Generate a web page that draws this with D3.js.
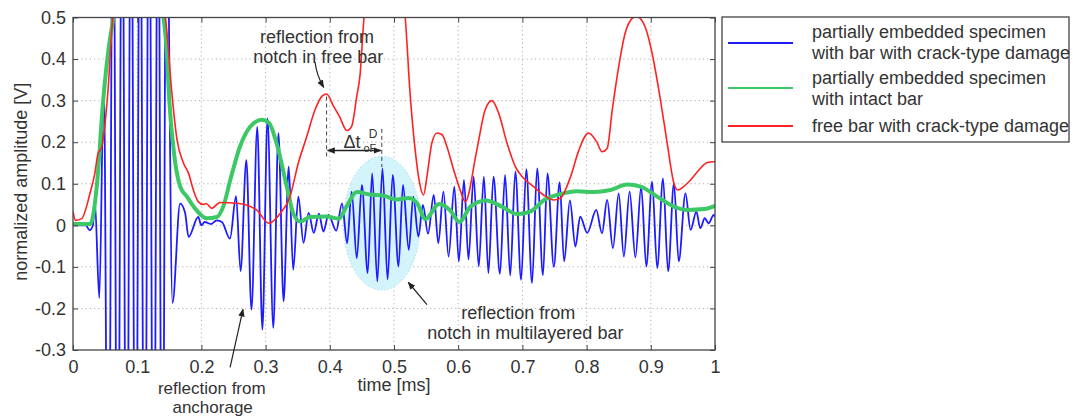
<!DOCTYPE html>
<html>
<head>
<meta charset="utf-8">
<script src="https://cdn.jsdelivr.net/npm/d3@7"></script>
<style>
  html, body { margin: 0; padding: 0; background: #fff; }
  svg text { font-family: "Liberation Sans", Arial, sans-serif; fill: #333; }
</style>
</head>
<body>
<svg id="chart" width="1073" height="418"></svg>
<script>
// ---------------- DATA ----------------
const xTicks = [0, 0.1, 0.2, 0.3, 0.4, 0.5, 0.6, 0.7, 0.8, 0.9, 1];
const xTickLabels = ["0", "0.1", "0.2", "0.3", "0.4", "0.5", "0.6", "0.7", "0.8", "0.9", "1"];
const yTicks = [-0.3, -0.2, -0.1, 0, 0.1, 0.2, 0.3, 0.4, 0.5];
const yTickLabels = ["-0.3", "-0.2", "-0.1", "0", "0.1", "0.2", "0.3", "0.4", "0.5"];

const seriesNames = [
  ["partially embedded specimen", "with bar with crack-type damage"],
  ["partially embedded specimen", "with intact bar"],
  ["free bar with crack-type damage"]
];

// blue: partially embedded specimen, bar with crack-type damage (time [ms], amplitude [V])
const blueSignal = [
  [0,0],[0.02,0],[0.026,-0.012],[0.031,0.0],[0.034,0.06],[0.041,-0.175],[0.048,0.35],
  [0.055,-1.0],[0.0625,1.0],[0.0695,-1.0],[0.0765,1.0],[0.0835,-1.0],[0.0905,1.0],[0.0975,-1.0],
  [0.1045,1.0],[0.1115,-1.0],[0.1185,1.0],[0.1255,-1.0],[0.1325,1.0],[0.139,-1.0],[0.1455,0.9],
  [0.155,-0.187],[0.1668,0.052],[0.1746,0.03],[0.18,-0.028],[0.195,0.02],[0.2,0.0],[0.205,0.008],
  [0.215,0.003],[0.224,0.012],[0.232,0.008],[0.2445,-0.032],[0.254,0.07],[0.261,-0.11],[0.27,0.157],
  [0.278,-0.203],[0.287,0.237],[0.295,-0.251],[0.303,0.257],[0.312,-0.247],[0.32,0.222],[0.328,-0.183],
  [0.336,0.141],[0.343,-0.107],[0.351,0.069],[0.359,-0.042],[0.367,0.03],[0.375,-0.018],[0.383,0.028],
  [0.39,-0.015],[0.398,0.025],[0.41,-0.013],[0.419,0.053],[0.427,-0.043],[0.434,0.081],[0.442,-0.079],
  [0.45,0.097],[0.459,-0.115],[0.466,0.125],[0.474,-0.135],[0.482,0.137],[0.49,-0.13],[0.498,0.121],
  [0.507,-0.099],[0.514,0.097],[0.523,-0.059],[0.53,0.069],[0.538,-0.027],[0.545,0.049],[0.553,-0.02],
  [0.562,0.073],[0.569,-0.043],[0.577,0.081],[0.585,-0.075],[0.594,0.093],[0.601,-0.087],[0.609,0.109],
  [0.616,-0.082],[0.624,0.117],[0.632,-0.099],[0.64,0.117],[0.647,-0.115],[0.655,0.117],[0.665,-0.117],
  [0.673,0.121],[0.681,-0.121],[0.689,0.129],[0.698,-0.131],[0.706,0.135],[0.715,-0.139],[0.723,0.137],
  [0.732,-0.12],[0.739,0.125],[0.749,-0.1],[0.758,0.104],[0.765,-0.087],[0.774,0.06],[0.7825,-0.051],
  [0.79,0.021],[0.801,-0.018],[0.815,0.037],[0.824,-0.019],[0.832,0.061],[0.841,-0.055],[0.85,0.077],
  [0.858,-0.075],[0.867,0.081],[0.876,-0.077],[0.885,0.093],[0.893,-0.099],[0.902,0.105],[0.91,-0.103],
  [0.919,0.113],[0.927,-0.111],[0.936,0.101],[0.9435,-0.087],[0.954,0.077],[0.962,-0.011],[0.971,0.033],
  [0.977,-0.007],[0.984,0.017],[0.99,0.005],[0.998,0.025],[1.0,0.02]
];

// green: partially embedded specimen with intact bar
const greenSignal = [
  [0,0.003],[0.027,0.003],[0.037,0.093],[0.047,0.30],[0.055,0.42],[0.063,0.5],[0.07,0.58],
  [0.1,0.78],[0.134,0.58],[0.141,0.5],[0.146,0.42],[0.15,0.30],[0.158,0.165],[0.167,0.093],
  [0.177,0.07],[0.192,0.037],[0.208,0.017],[0.224,0.02],[0.234,0.045],[0.245,0.109],[0.26,0.189],
  [0.276,0.237],[0.294,0.254],[0.305,0.247],[0.317,0.198],[0.333,0.093],[0.343,0.029],[0.354,0.009],
  [0.369,0.02],[0.395,0.021],[0.414,0.016],[0.426,0.045],[0.442,0.08],[0.462,0.074],[0.484,0.071],
  [0.504,0.062],[0.523,0.066],[0.536,0.053],[0.549,0.015],[0.57,0.051],[0.588,0.035],[0.602,0.008],
  [0.619,0.045],[0.643,0.06],[0.668,0.045],[0.692,0.027],[0.712,0.033],[0.735,0.062],[0.759,0.075],
  [0.785,0.082],[0.811,0.08],[0.837,0.085],[0.863,0.098],[0.884,0.093],[0.91,0.069],[0.936,0.045],
  [0.957,0.037],[0.983,0.039],[1.0,0.047]
];

// red: free bar with crack-type damage
const redSignal = [
  [0,0.033],[0.004,0.012],[0.0135,0.016],[0.0265,0.077],[0.034,0.125],[0.039,0.173],[0.042,0.18],
  [0.045,0.19],[0.05,0.246],[0.055,0.334],[0.06,0.462],[0.066,0.56],[0.09,0.78],[0.115,0.8],
  [0.135,0.6],[0.146,0.47],[0.154,0.318],[0.162,0.206],[0.172,0.15],[0.18,0.125],[0.1875,0.085],
  [0.195,0.057],[0.203,0.05],[0.208,0.052],[0.216,0.041],[0.229,0.055],[0.255,0.053],[0.27,0.049],
  [0.286,0.037],[0.305,0.005],[0.323,0.029],[0.338,0.069],[0.351,0.15],[0.364,0.213],[0.377,0.278],
  [0.388,0.311],[0.395,0.316],[0.406,0.286],[0.415,0.262],[0.4267,0.228],[0.434,0.238],[0.442,0.31],
  [0.447,0.36],[0.453,0.494],[0.47,0.65],[0.49,0.7],[0.508,0.6],[0.5175,0.5],[0.525,0.318],
  [0.533,0.181],[0.54,0.101],[0.546,0.073],[0.552,0.125],[0.559,0.198],[0.567,0.222],[0.575,0.218],
  [0.5825,0.189],[0.593,0.133],[0.603,0.085],[0.611,0.057],[0.629,0.181],[0.642,0.278],[0.6525,0.30],
  [0.663,0.27],[0.676,0.198],[0.689,0.141],[0.702,0.113],[0.7175,0.093],[0.733,0.073],[0.749,0.061],
  [0.759,0.065],[0.775,0.117],[0.788,0.181],[0.803,0.222],[0.816,0.2],[0.824,0.177],[0.832,0.185],
  [0.84,0.278],[0.85,0.382],[0.86,0.462],[0.871,0.498],[0.878,0.503],[0.885,0.495],[0.892,0.474],
  [0.902,0.414],[0.915,0.302],[0.9255,0.198],[0.936,0.101],[0.942,0.085],[0.951,0.093],[0.962,0.109],
  [0.975,0.133],[0.988,0.151],[1.0,0.153]
];

// ---------------- LAYOUT ----------------
const svg = d3.select("#chart");
const plot = { left: 73, right: 715, top: 17.5, bottom: 350 };
const x = d3.scaleLinear().domain([0, 1]).range([plot.left, plot.right]);
const y = d3.scaleLinear().domain([-0.3, 0.5]).range([plot.bottom, plot.top]);

const colors = { blue: "#1c1cff", green: "#3cc864", red: "#ff2222" };
const fontSize = 18;

// clip
const defs = svg.append("defs");
defs.append("clipPath").attr("id", "clip")
  .append("rect").attr("x", plot.left).attr("y", plot.top)
  .attr("width", plot.right - plot.left).attr("height", plot.bottom - plot.top);
defs.append("marker").attr("id", "arrowHead").attr("viewBox", "0 0 10 10")
  .attr("refX", 9).attr("refY", 5).attr("markerWidth", 8).attr("markerHeight", 8)
  .attr("orient", "auto-start-reverse").attr("markerUnits", "userSpaceOnUse")
  .append("path").attr("d", "M0,1 L10,5 L0,9 Z").attr("fill", "#222");

// grid
const gGrid = svg.append("g");
gGrid.selectAll("line.vx").data(xTicks.filter(t => t > 0 && t < 1)).enter().append("line")
  .attr("x1", d => x(d)).attr("x2", d => x(d)).attr("y1", plot.top).attr("y2", plot.bottom)
  .attr("stroke", "#b0b0b0").attr("stroke-width", 1).attr("stroke-dasharray", "1.2,3");
gGrid.selectAll("line.hy").data(yTicks.filter(t => t > -0.3 && t < 0.5)).enter().append("line")
  .attr("x1", plot.left).attr("x2", plot.right).attr("y1", d => y(d)).attr("y2", d => y(d))
  .attr("stroke", "#b0b0b0").attr("stroke-width", 1).attr("stroke-dasharray", "1.2,3");

// ellipse highlight (data units)
const ellipse = { t: 0.481, v: 0.005, rt: 0.06, rv: 0.161 };
svg.append("ellipse")
  .attr("cx", x(ellipse.t)).attr("cy", y(ellipse.v))
  .attr("rx", x(ellipse.rt) - x(0)).attr("ry", y(0) - y(ellipse.rv))
  .attr("fill", "#d4f4fb").attr("stroke", "#a8dcec").attr("stroke-width", 1)
  .attr("stroke-dasharray", "1.5,2");

// lines
const line = d3.line().x(d => x(d[0])).y(d => y(d[1])).curve(d3.curveMonotoneX);
const gLines = svg.append("g").attr("clip-path", "url(#clip)");
gLines.append("path").datum(blueSignal).attr("d", line)
  .attr("fill", "none").attr("stroke", colors.blue).attr("stroke-width", 1.8);
gLines.append("path").datum(greenSignal).attr("d", line)
  .attr("fill", "none").attr("stroke", colors.green).attr("stroke-width", 4).attr("stroke-linejoin", "round");
gLines.append("path").datum(redSignal).attr("d", line)
  .attr("fill", "none").attr("stroke", colors.red).attr("stroke-width", 1.6);

// axes (ticks inside)
const axisColor = "#444";
const gxB = svg.append("g").attr("transform", `translate(0,${plot.bottom})`)
  .call(d3.axisBottom(x).tickValues(xTicks).tickFormat((d, i) => xTickLabels[i]).tickSize(-5).tickPadding(10));
const gxT = svg.append("g").attr("transform", `translate(0,${plot.top})`)
  .call(d3.axisTop(x).tickValues(xTicks).tickFormat("").tickSize(-5));
const gyL = svg.append("g").attr("transform", `translate(${plot.left},0)`)
  .call(d3.axisLeft(y).tickValues(yTicks).tickFormat((d, i) => yTickLabels[i]).tickSize(-5).tickPadding(7));
const gyR = svg.append("g").attr("transform", `translate(${plot.right},0)`)
  .call(d3.axisRight(y).tickValues(yTicks).tickFormat("").tickSize(-5));
[gxB, gxT, gyL, gyR].forEach(g => {
  g.select(".domain").remove();
  g.selectAll(".tick line").attr("stroke", axisColor);
  g.selectAll(".tick text").attr("font-size", fontSize).attr("font-family", "Liberation Sans, Arial, sans-serif").attr("fill", "#333");
});
gxB.selectAll(".tick text").attr("dy", "0.72em");
svg.append("rect").attr("x", plot.left).attr("y", plot.top)
  .attr("width", plot.right - plot.left).attr("height", plot.bottom - plot.top)
  .attr("fill", "none").attr("stroke", axisColor).attr("stroke-width", 1.3);

// axis titles
svg.append("text").attr("x", (plot.left + plot.right) / 2).attr("y", 385).attr("dy", "0.35em")
  .attr("text-anchor", "middle").attr("font-size", fontSize).text("time [ms]");
svg.append("text").attr("transform", `translate(21,${(plot.top + plot.bottom) / 2 - 2}) rotate(-90)`)
  .attr("dy", "0.35em").attr("text-anchor", "middle").attr("font-size", fontSize).text("normalized amplitude [V]");

// ---------------- ANNOTATIONS (data units) ----------------
const gAnn = svg.append("g");
function annText(lines, t, v0, v1, fs) {
  lines.forEach((s, i) => {
    gAnn.append("text").attr("x", x(t[i])).attr("y", y(i === 0 ? v0 : v1)).attr("dy", "0.35em")
      .attr("text-anchor", "middle").attr("font-size", fs || fontSize).text(s);
  });
}
annText(["reflection from", "notch in free bar"], [0.380, 0.382], 0.455, 0.405);
annText(["reflection from", "anchorage"], [0.2162, 0.2175], -0.3914, -0.4371, 17);
annText(["reflection from", "notch in multilayered bar"], [0.6937, 0.7046], -0.211, -0.259);

// arrows
function arrow(t0, v0, t1, v1, bend) {
  const x0 = x(t0), y0 = y(v0), x1 = x(t1), y1 = y(v1);
  const mx = (x0 + x1) / 2 + (bend || 0), my = (y0 + y1) / 2;
  gAnn.append("path").attr("d", `M${x0},${y0} Q${mx},${my} ${x1},${y1}`)
    .attr("fill", "none").attr("stroke", "#222").attr("stroke-width", 1.2)
    .attr("marker-end", "url(#arrowHead)");
}
arrow(0.377, 0.393, 0.3905, 0.332, -3);
arrow(0.2447, -0.342, 0.2648, -0.202, 0);
arrow(0.5514, -0.191, 0.5222, -0.137, 0);

// Δt construction
const tPeakFree = 0.395, tPeakNotch = 0.481;
gAnn.append("line").attr("x1", x(tPeakFree)).attr("x2", x(tPeakFree)).attr("y1", y(0.31)).attr("y2", y(0.166))
  .attr("stroke", "#444").attr("stroke-width", 1).attr("stroke-dasharray", "4,3");
gAnn.append("line").attr("x1", x(tPeakNotch)).attr("x2", x(tPeakNotch)).attr("y1", y(0.232)).attr("y2", y(0.14))
  .attr("stroke", "#444").attr("stroke-width", 1).attr("stroke-dasharray", "4,3");
gAnn.append("line").attr("x1", x(tPeakFree) + 1).attr("x2", x(tPeakNotch) - 1).attr("y1", y(0.18)).attr("y2", y(0.18))
  .attr("stroke", "#222").attr("stroke-width", 1.3)
  .attr("marker-start", "url(#arrowHead)").attr("marker-end", "url(#arrowHead)");
gAnn.append("text").attr("x", x(0.4215)).attr("y", y(0.185)).attr("font-size", fontSize).text("\u0394t");
gAnn.append("text").attr("x", x(0.4605)).attr("y", y(0.21)).attr("font-size", 12).text("D");
gAnn.append("text").attr("x", x(0.4525)).attr("y", y(0.177)).attr("font-size", 11).text("oF");

// ---------------- LEGEND ----------------
const leg = svg.append("g");
leg.append("rect").attr("x", 722).attr("y", 17).attr("width", 347).attr("height", 125)
  .attr("fill", "#fff").attr("stroke", "#444").attr("stroke-width", 1.3);
const legLineY = [43, 88, 126];
const legTextY = [[32, 53], [77.5, 98.5], [125.5]];
const legColors = [colors.blue, colors.green, colors.red];
seriesNames.forEach((names, i) => {
  leg.append("line").attr("x1", 728).attr("x2", 793).attr("y1", legLineY[i]).attr("y2", legLineY[i])
    .attr("stroke", legColors[i]).attr("stroke-width", 2);
  names.forEach((s, j) => {
    leg.append("text").attr("x", 812).attr("y", legTextY[i][j]).attr("dy", "0.35em")
      .attr("font-size", fontSize).text(s);
  });
});
</script>
</body>
</html>
